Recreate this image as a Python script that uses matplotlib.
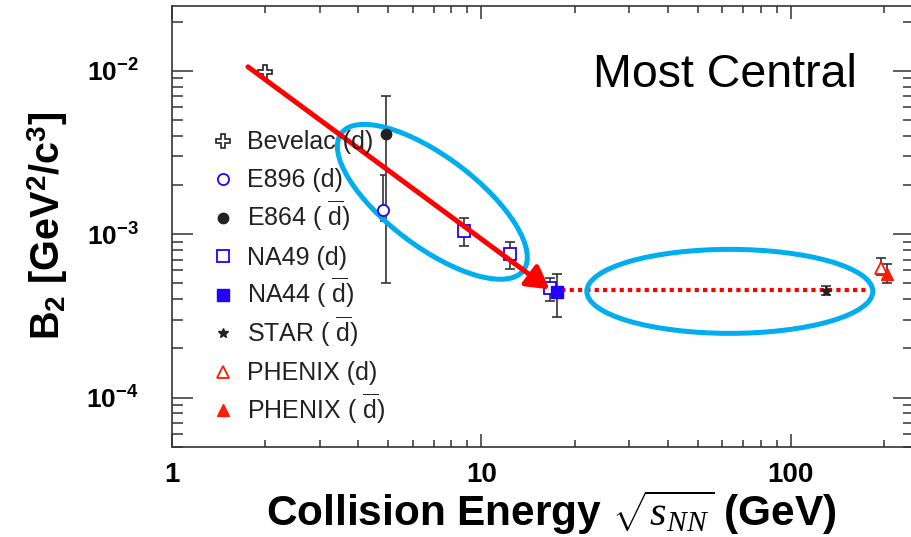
import numpy as np
import matplotlib
matplotlib.use("Agg")
import matplotlib.pyplot as plt
from matplotlib.patches import Ellipse
from matplotlib.ticker import FuncFormatter, NullFormatter, LogLocator
from matplotlib.transforms import ScaledTranslation

plt.rcParams['font.family'] = 'Liberation Sans'
plt.rcParams['mathtext.fontset'] = 'custom'
plt.rcParams['mathtext.rm'] = 'Liberation Sans'
plt.rcParams['mathtext.bf'] = 'Liberation Sans:bold'
plt.rcParams['mathtext.it'] = 'Liberation Serif:italic'

# B2 coalescence parameter vs collision energy (most central)
bevelac_x = [2.0]
bevelac_y = [0.0098]

e896_x = [4.8]
e896_y = [0.0014]
e896_lo = [0.0012]
e896_hi = [0.0023]

e864_x = [4.9]
e864_y = [0.0041]
e864_lo = [0.0005]
e864_hi = [0.0070]

na49_x = [8.8, 12.4, 16.6]
na49_y = [0.00104, 0.00076, 0.000466]
na49_lo = [0.000845, 0.00061, 0.00039]
na49_hi = [0.00126, 0.00090, 0.000542]

na44_x = [17.6]
na44_y = [0.00044]
na44_lo = [0.000313]
na44_hi = [0.000567]

star_x = [130]
star_y = [0.00045]
star_lo = [0.000422]
star_hi = [0.000481]

phenix_d_x = [196]
phenix_d_y = [0.000624]
phenix_d_lo = [0.000562]
phenix_d_hi = [0.000711]

phenix_dbar_x = [204]
phenix_dbar_y = [0.000568]
phenix_dbar_lo = [0.000505]
phenix_dbar_hi = [0.000662]

# trend guides
trend_start = (1.76, 0.0106)
trend_end = (16.6, 0.00046)
plateau_x = [17.0, 176]
plateau_y = 0.000455

blue = '#2200ff'
red = '#ff1a00'
dark = '#222222'
ring = '#00aeef'

dbar = r'( $\overline{\mathrm{d}}$)'
styles = {
    'bevelac': dict(marker='P', ms=10, mfc='white', mec=dark, mew=1.2),
    'e896': dict(marker='o', ms=8, mfc='white', mec=blue, mew=1.3),
    'e864': dict(marker='o', ms=7.5, mfc=dark, mec=dark),
    'na49': dict(marker='s', ms=8.5, mfc='white', mec=blue, mew=1.3),
    'na44': dict(marker='s', ms=8, mfc=blue, mec=blue),
    'star': dict(marker='*', ms=7.5, mfc=dark, mec=dark),
    'phenix_d': dict(marker='^', ms=9, mfc='white', mec=red, mew=1.3),
    'phenix_dbar': dict(marker='^', ms=9, mfc=red, mec=red),
}
labels = {
    'bevelac': 'Bevelac (d)',
    'e896': 'E896 (d)',
    'e864': 'E864 ' + dbar,
    'na49': 'NA49 (d)',
    'na44': 'NA44 ' + dbar,
    'star': 'STAR ' + dbar,
    'phenix_d': 'PHENIX (d)',
    'phenix_dbar': 'PHENIX ' + dbar,
}

fig = plt.figure(figsize=(9.12, 5.37), dpi=100)
ax = fig.add_axes([172/912, 90.3/537, 742/912, 440.7/537])
ax.set_xscale('log')
ax.set_yscale('log')
ax.set_xlim(1, 250)
ax.set_ylim(5e-5, 2.5e-2)


def bars(x, y, lo, hi, cap=3.5):
    y = np.array(y)
    err = [y - np.array(lo), np.array(hi) - y]
    ax.errorbar(x, y, yerr=err, fmt='none', ecolor='#333333', elinewidth=1.2,
                capsize=cap, capthick=1.2, zorder=2)


bars(e896_x, e896_y, e896_lo, e896_hi, cap=2)
bars(e864_x, e864_y, e864_lo, e864_hi)
bars(na49_x, na49_y, na49_lo, na49_hi)
bars(na44_x, na44_y, na44_lo, na44_hi)
bars(star_x, star_y, star_lo, star_hi)
bars(phenix_d_x, phenix_d_y, phenix_d_lo, phenix_d_hi)
bars(phenix_dbar_x, phenix_dbar_y, phenix_dbar_lo, phenix_dbar_hi)

ax.plot(bevelac_x, bevelac_y, ls='none', zorder=4, **styles['bevelac'])
ax.plot(e896_x, e896_y, ls='none', zorder=4, **styles['e896'])
ax.plot(e864_x, e864_y, ls='none', zorder=4, **styles['e864'])
ax.plot(na49_x, na49_y, ls='none', zorder=4, **styles['na49'])
ax.plot(na44_x, na44_y, ls='none', zorder=4, **styles['na44'])
ax.plot(star_x, star_y, ls='none', zorder=4, **styles['star'])
ax.plot(phenix_d_x, phenix_d_y, ls='none', zorder=4, **styles['phenix_d'])
ax.plot(phenix_dbar_x, phenix_dbar_y, ls='none', zorder=4, **styles['phenix_dbar'])

# red trend arrow and flat dotted line
ax.annotate('', xy=trend_end, xytext=trend_start,
            arrowprops=dict(arrowstyle='-|>,head_length=0.42,head_width=0.24',
                            color='red', lw=3.6, mutation_scale=32,
                            shrinkA=0, shrinkB=0), zorder=5)
ax.plot(plateau_x, [plateau_y, plateau_y], color='red', lw=3, ls=(0, (1, 1)),
        dash_capstyle='butt', zorder=3)

# highlight rings, sized in inches around a data point
for xc, yc, w, h, ang in [(6.94, 0.00158, 2.28, 0.90, -37), (63.5, 0.000447, 2.86, 0.84, 0)]:
    tr = fig.dpi_scale_trans + ScaledTranslation(xc, yc, ax.transData)
    ax.add_patch(Ellipse((0, 0), w, h, angle=ang, transform=tr, fill=False,
                         ec=ring, lw=3.6, zorder=3))

ax.text(0.5674, 0.8169, 'Most Central', transform=ax.transAxes, fontsize=33.5,
        ha='left', va='baseline', color='black')

# key: marker column and text column, fixed row pitch
row0 = (446.7 - 140.5) / 440.7
pitch = 38.5 / 440.7
for i, key in enumerate(styles):
    yr = row0 - i * pitch
    ax.plot([0.0687], [yr], transform=ax.transAxes, ls='none', clip_on=False,
            zorder=6, **styles[key])
    ax.text(0.1011, yr - 8.5 / 440.7, labels[key], transform=ax.transAxes,
            fontsize=18, color=dark, ha='left', va='baseline', zorder=6)

# axes styling
for s in ax.spines.values():
    s.set_color('#333333')
    s.set_linewidth(1.2)

ax.xaxis.set_major_locator(LogLocator(base=10))
ax.xaxis.set_minor_locator(LogLocator(base=10, subs=np.arange(2, 10)))
ax.yaxis.set_minor_locator(LogLocator(base=10, subs=np.arange(2, 10)))
ax.xaxis.set_minor_formatter(NullFormatter())
ax.yaxis.set_minor_formatter(NullFormatter())
ax.xaxis.set_major_formatter(FuncFormatter(lambda v, _: '%g' % v))
ax.yaxis.set_major_formatter(FuncFormatter(lambda v, _: r'$\mathbf{10^{%d}}$' % round(np.log10(v))))

ax.tick_params(which='both', direction='in', top=True, right=True, color='#333333', width=1.1)
ax.tick_params(axis='x', which='major', length=9.5, pad=11, labelsize=20)
ax.tick_params(axis='x', which='minor', length=5)
ax.tick_params(axis='y', which='major', length=15, pad=24, labelsize=19)
ax.tick_params(axis='y', which='minor', length=8)
for lab in ax.get_xticklabels() + ax.get_yticklabels():
    lab.set_fontweight('bold')

ax.set_xlabel(r'Collision Energy $\sqrt{s_{NN}}$ (GeV)', fontsize=30.5, fontweight='bold')
ax.xaxis.set_label_coords(0.5115, -0.095)
ax.set_ylabel(r'B$_\mathbf{2}$ [GeV$^\mathbf{2}$/c$^\mathbf{3}$]', fontsize=28.5, fontweight='bold')
ax.yaxis.set_label_coords(-0.1375, 0.5)

fig.savefig('out.png', dpi=100)
